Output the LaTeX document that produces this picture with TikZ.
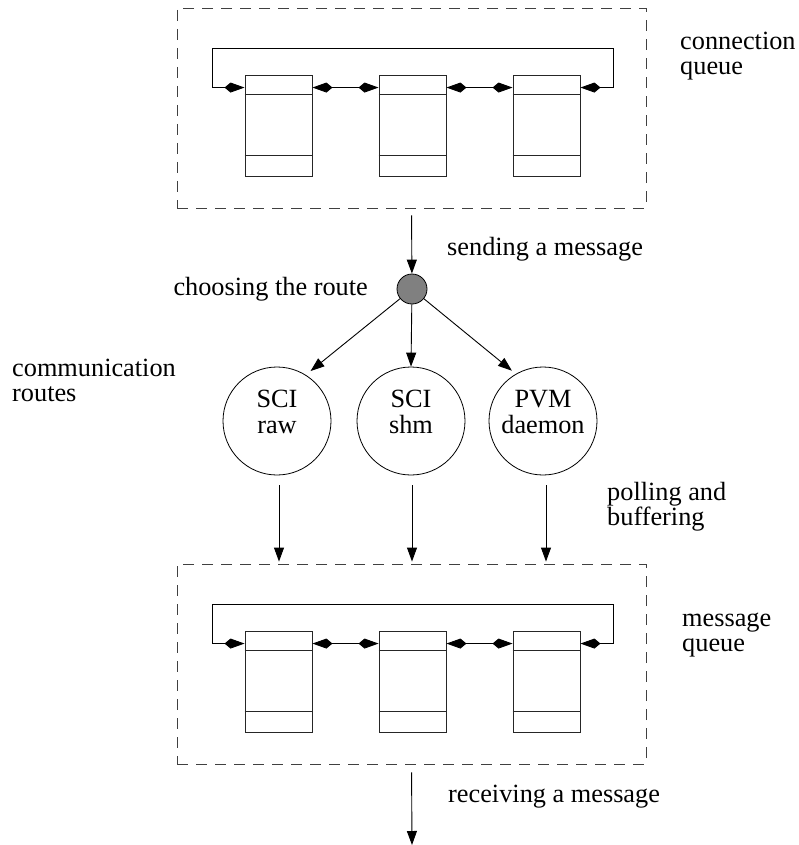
\documentclass[tikz,border=0pt]{standalone}
\usepackage{fontspec}
\setmainfont{Liberation Serif}
\usetikzlibrary{arrows.meta,calc}
\tikzset{
  dashbox/.style={draw=black!75, dash pattern=on 11pt off 8pt, line width=0.9pt, minimum width=469pt, minimum height=200pt, inner sep=0pt},
  cellbox/.style={draw=black!85, line width=0.9pt, minimum width=67pt, minimum height=101pt, inner sep=0pt},
  route/.style={draw, circle, line width=0.8pt, minimum size=108pt, inner sep=0pt},
  hub/.style={draw, circle, fill=black!50, line width=0.8pt, minimum size=30pt, inner sep=0pt},
  lbl/.style={anchor=base west, inner sep=0pt},
  ctext/.style={anchor=base, inner sep=0pt},
  link/.style={line width=0.9pt, {Kite[length=20pt,width=10pt,inset=6pt]}-{Kite[length=20pt,width=10pt,inset=6pt]}},
  flow/.style={line width=0.9pt, -{Triangle[length=14pt,width=10pt]}},
}
\begin{document}
\begin{tikzpicture}[x=1pt,y=-1pt,font=\fontsize{26.3}{26.3}\selectfont]
\useasboundingbox (0,0) rectangle (799,845);

% ---------- connection queue ----------
\node[dashbox] (qa) at (411.5,108) {};
\foreach \i/\x in {1/278.5,2/412.5,3/546.5}{
  \node[cellbox] (a\i) at (\x,125.5) {};
  \draw[line width=0.9pt,black!85] ($(a\i.north west)+(0,20)$) -- ($(a\i.north east)+(0,20)$);
  \draw[line width=0.9pt,black!85] ($(a\i.south west)+(0,-21)$) -- ($(a\i.south east)+(0,-21)$);
  \coordinate (aw\i) at ($(a\i.north west)+(0,13)$);
  \coordinate (ae\i) at ($(a\i.north east)+(0,13)$);
}
\coordinate (aL) at (212,48);
\coordinate (aR) at (613,48);
\draw[link] (aw1) -- (aw1 -| aL) -- (aL) -- (aR) -- (ae3 -| aR) -- (ae3);
\draw[link] (ae1) -- (aw2);
\draw[link] (ae2) -- (aw3);

\node[lbl] (cq1) at (680,50) {connection};
\node[lbl] (cq2) at (680,75) {queue};

% ---------- routing ----------
\node[hub] (g) at (412,289) {};
\node[lbl] (snd) at (447,255) {sending a message};
\node[anchor=base east, inner sep=0pt] (cho) at (368,295) {choosing the route};
\draw[flow, shorten <=7pt] (qa.south) -- (g);

\node[route] (c1) at (277,421) {};
\node[route] (c2) at (411,421) {};
\node[route] (c3) at (543,421) {};
\node[ctext] (t1a) at ($(c1)+(0,-14)$) {SCI};
\node[ctext] (t1b) at ($(c1)+(0,12)$) {raw};
\node[ctext] (t2a) at ($(c2)+(0,-14)$) {SCI};
\node[ctext] (t2b) at ($(c2)+(0,12)$) {shm};
\node[ctext] (t3a) at ($(c3)+(0,-14)$) {PVM};
\node[ctext] (t3b) at ($(c3)+(0,12)$) {daemon};

\draw[flow, shorten >=6pt] (g) -- (c1.58);
\draw[flow] (g) -- (c2.north);
\draw[flow, shorten >=5pt] (g) -- (c3.120);

\node[lbl] (cr1) at (12,376) {communication};
\node[lbl] (cr2) at (12,401) {routes};

\node[lbl] (pb1) at (607,500) {polling and};
\node[lbl] (pb2) at (607,525) {buffering};

% ---------- message queue ----------
\node[dashbox] (qb) at (411.5,664) {};
\foreach \i/\x in {1/278.5,2/412.5,3/546.5}{
  \node[cellbox] (b\i) at (\x,681.5) {};
  \draw[line width=0.9pt,black!85] ($(b\i.north west)+(0,20)$) -- ($(b\i.north east)+(0,20)$);
  \draw[line width=0.9pt,black!85] ($(b\i.south west)+(0,-21)$) -- ($(b\i.south east)+(0,-21)$);
  \coordinate (bw\i) at ($(b\i.north west)+(0,13)$);
  \coordinate (be\i) at ($(b\i.north east)+(0,13)$);
}
\coordinate (bL) at (212,604);
\coordinate (bR) at (613,604);
\draw[link] (bw1) -- (bw1 -| bL) -- (bL) -- (bR) -- (be3 -| bR) -- (be3);
\draw[link] (be1) -- (bw2);
\draw[link] (be2) -- (bw3);

\draw[flow, shorten <=10pt, shorten >=2pt] ([xshift=2pt]c1.south) -- ([xshift=2pt]c1.south |- qb.north);
\draw[flow, shorten <=10pt, shorten >=2pt] ([xshift=1pt]c2.south) -- ([xshift=1pt]c2.south |- qb.north);
\draw[flow, shorten <=10pt, shorten >=2pt] ([xshift=3pt]c3.south) -- ([xshift=3pt]c3.south |- qb.north);

\node[lbl] (mq1) at (682,626) {message};
\node[lbl] (mq2) at (682,651) {queue};

\coordinate (out) at (412,845);
\draw[flow, shorten <=8pt] (qb.south) -- (out);
\node[lbl] (rcv) at (448,802) {receiving a message};
\end{tikzpicture}
\end{document}
